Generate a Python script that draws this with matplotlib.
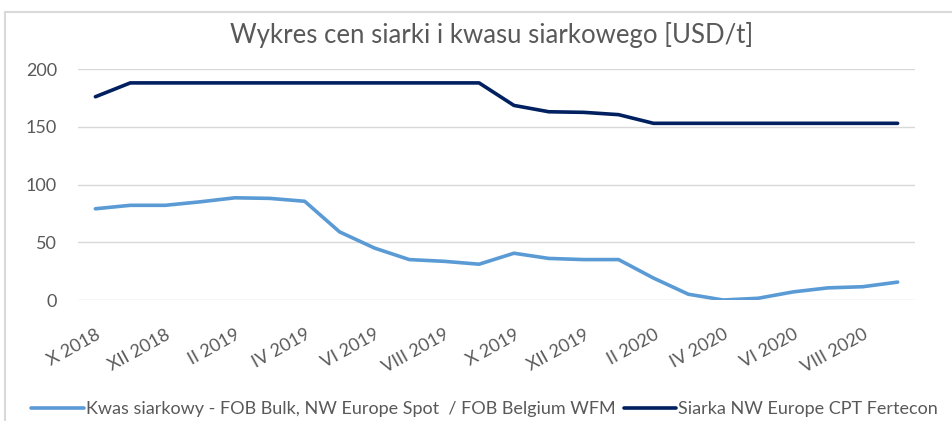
import matplotlib
matplotlib.use("Agg")
from matplotlib import pyplot as plt
from matplotlib.patches import Rectangle

# dane miesięczne X 2018 - IX 2020
months = ["X 2018", "XI 2018", "XII 2018", "I 2019", "II 2019", "III 2019",
          "IV 2019", "V 2019", "VI 2019", "VII 2019", "VIII 2019", "IX 2019",
          "X 2019", "XI 2019", "XII 2019", "I 2020", "II 2020", "III 2020",
          "IV 2020", "V 2020", "VI 2020", "VII 2020", "VIII 2020", "IX 2020"]

kwas = [79, 82, 82, 85, 88.5, 88, 85.5, 59, 45, 35, 33.5, 31,
        40.5, 36, 35, 35, 19, 5, 0, 1.5, 7, 10.5, 11.5, 15.5]

siarka = [176, 188, 188, 188, 188, 188, 188, 188, 188, 188, 188, 188,
          168.5, 163, 162.5, 160.5, 153, 153, 153, 153, 153, 153, 153, 153]

label_kwas = "Kwas siarkowy - FOB Bulk, NW Europe Spot  / FOB Belgium WFM"
label_siarka = "Siarka NW Europe CPT Fertecon"

plt.rcParams['font.family'] = ['Lato', 'DejaVu Sans']

fig = plt.figure(figsize=(9.53, 4.21), dpi=100)
ax = fig.add_axes([0.0818, 0.2874, 0.8784, 0.5486])

x = list(range(len(months)))
ax.plot(x, kwas, color='#5B9BD5', lw=2.6, solid_capstyle='round', label=label_kwas)
ax.plot(x, siarka, color='#002060', lw=2.6, solid_capstyle='round', label=label_siarka)

ax.set_xlim(-0.5, len(months) - 0.5)
ax.set_ylim(0, 200)
ax.set_yticks([0, 50, 100, 150, 200])
ax.set_xticks(x[::2])
ax.set_xticklabels(months[::2], rotation=29, ha='right', va='top',
                   rotation_mode='anchor')
ax.tick_params(axis='both', length=0, labelsize=13, colors='#595959')
ax.tick_params(axis='x', pad=19)
ax.tick_params(axis='y', pad=15)
ax.grid(axis='y', color='#D9D9D9', lw=1)
ax.set_axisbelow(True)
for s in ax.spines.values():
    s.set_visible(False)

fig.text(0.516, 0.917, "Wykres cen siarki i kwasu siarkowego [USD/t]",
         ha='center', va='center', fontsize=18.5, color='#595959')

fig.add_artist(Rectangle((5 / 953, -0.1), 1.2, 1.1 - 12 / 421,
                         transform=fig.transFigure, fill=False,
                         edgecolor='#D9D9D9', lw=1.5))

fig.legend(loc='center left', bbox_to_anchor=(0.033, 0.028), ncol=2,
           frameon=False, fontsize=13, handlelength=2.9, handletextpad=0.12,
           columnspacing=0.45, labelcolor='#595959', borderaxespad=0,
           borderpad=0)

plt.savefig("out.png", dpi=100)
